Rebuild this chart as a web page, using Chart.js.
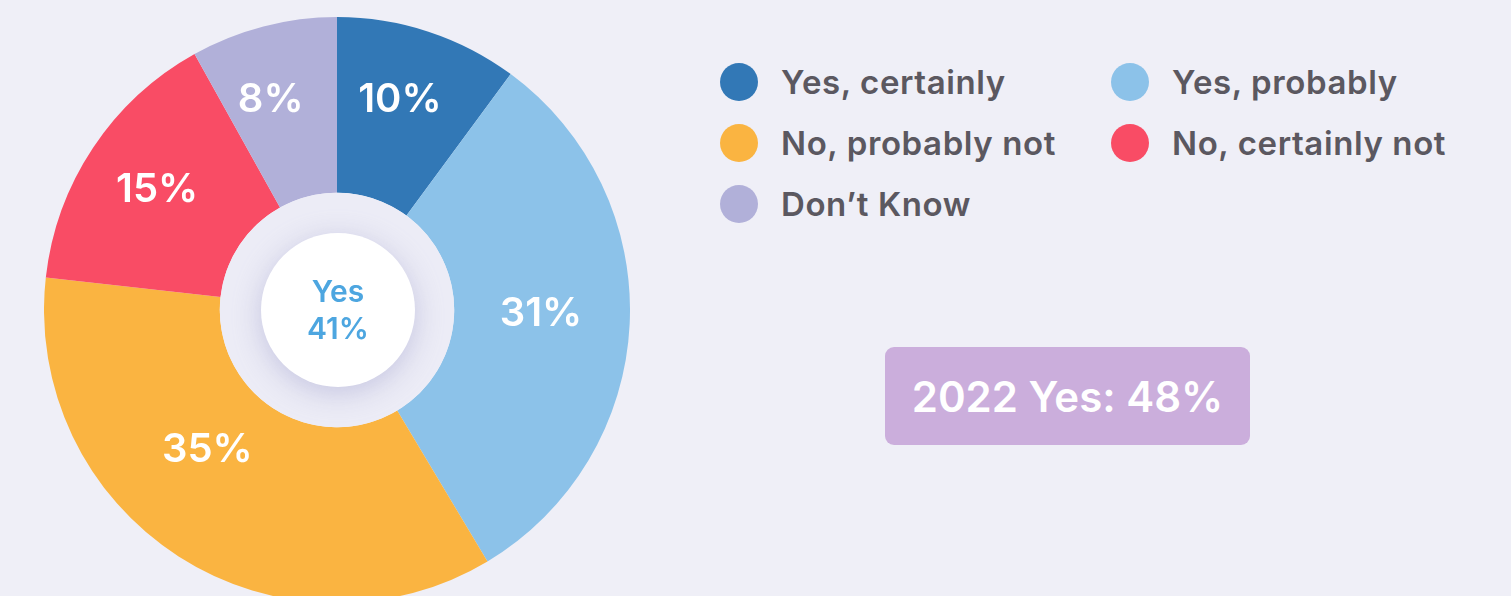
<!DOCTYPE html>
<html>
<head>
<meta charset="utf-8">
<script src="https://cdn.jsdelivr.net/npm/chart.js@4.4.0/dist/chart.umd.min.js"></script>
<style>
    html, body {
        margin: 0;
        padding: 0;
        width: 1511px;
        height: 596px;
        overflow: hidden;
        background: #EFEFF7;
        font-family: Inter, "Noto Sans", sans-serif;
    }
    #wrap {
        position: absolute;
        left: 44px;
        top: 17px;
        width: 586px;
        height: 586px;
    }
    #legend {
        position: absolute;
        left: 720px;
        top: 0;
    }
    .item {
        position: absolute;
        display: flex;
        align-items: center;
        white-space: nowrap;
        font-size: 33px;
        font-weight: 600;
        letter-spacing: 0.6px;
        color: #5B5860;
    }
    .dot {
        width: 38px;
        height: 38px;
        border-radius: 50%;
        margin-right: 23px;
    }
    #badge {
        position: absolute;
        left: 885px;
        top: 347px;
        width: 365px;
        height: 98px;
        border-radius: 9px;
        background: #CBAEDC;
        color: #fff;
        font-size: 42px;
        font-weight: 600;
        display: flex;
        align-items: center;
        justify-content: center;
    }
</style>
</head>
<body>
<div id="wrap"><canvas id="pieChart" width="586" height="586"></canvas></div>
<div id="legend"></div>
<div id="badge"></div>

<script>
'use strict'

const labels = ['Yes, certainly', 'Yes, probably', 'No, probably not', 'No, certainly not', "Don\u2019t Know"];
const values = [10, 31, 35, 15, 8];
const colors = ['#3278B6', '#8CC2E9', '#FAB441', '#F94C65', '#B1B0D9'];
const centerLines = ['Yes', '41%'];
const badgeText = '2022 Yes: 48%';

// legend slots: [left, centerY] relative to #legend
const legendSlots = [[0, 82], [391, 82], [0, 143], [391, 143], [0, 204]];

// label placement: radius and small angle nudge (degrees) per slice
const labelRadius = [219, 204, 191, 216, 220];
const labelNudge = [-1.5, -1.5, 10, 0, -3];

const legend = document.getElementById('legend');
labels.forEach((name, i) => {
    const el = document.createElement('div');
    el.className = 'item';
    el.style.left = legendSlots[i][0] + 'px';
    el.style.top = (legendSlots[i][1] - 20) + 'px';
    el.style.height = '40px';
    el.innerHTML = '<span class="dot" style="background:' + colors[i] + '"></span>' + name;
    legend.appendChild(el);
});
document.getElementById('badge').textContent = badgeText;

const sliceLabels = {
    id: 'sliceLabels',
    afterDraw(chart) {
        const ctx = chart.ctx;
        const meta = chart.getDatasetMeta(0);
        const arc0 = meta.data[0];

        // inner hole with white disc and soft shadow
        ctx.save();
        ctx.beginPath();
        ctx.arc(arc0.x, arc0.y, arc0.innerRadius, 0, Math.PI * 2);
        ctx.fillStyle = '#ECECF6';
        ctx.fill();
        ctx.clip();
        ctx.shadowColor = 'rgba(150, 150, 200, 0.45)';
        ctx.shadowBlur = 28;
        ctx.shadowOffsetY = 6;
        ctx.beginPath();
        ctx.arc(arc0.x + 1, arc0.y, 77, 0, Math.PI * 2);
        ctx.fillStyle = '#ffffff';
        ctx.fill();
        ctx.restore();

        ctx.save();
        ctx.fillStyle = '#4DA6E0';
        ctx.font = '600 30px Inter';
        ctx.textAlign = 'center';
        ctx.textBaseline = 'middle';
        ctx.fillText(centerLines[0], arc0.x + 1, arc0.y - 17);
        ctx.fillText(centerLines[1], arc0.x + 1, arc0.y + 20);
        ctx.restore();

        ctx.save();
        ctx.fillStyle = '#ffffff';
        ctx.font = '600 40px Inter';
        ctx.textAlign = 'center';
        ctx.textBaseline = 'middle';
        meta.data.forEach((arc, i) => {
            const mid = (arc.startAngle + arc.endAngle) / 2 + labelNudge[i] * Math.PI / 180;
            const x = arc.x + labelRadius[i] * Math.cos(mid);
            const y = arc.y + labelRadius[i] * Math.sin(mid);
            ctx.fillText(values[i] + '%', x, y);
        });
        ctx.restore();
    }
};

const ctx = document.getElementById('pieChart').getContext('2d');

new Chart(ctx, {
    type: 'doughnut',
    data: {
        labels: labels,
        datasets: [{
            data: values,
            backgroundColor: colors,
            borderWidth: 0
        }]
    },
    options: {
        responsive: false,
        animation: false,
        cutout: '40%',
        layout: { padding: 0 },
        plugins: {
            legend: { display: false },
            tooltip: { enabled: false }
        }
    },
    plugins: [sliceLabels]
});
</script>
</body>
</html>
